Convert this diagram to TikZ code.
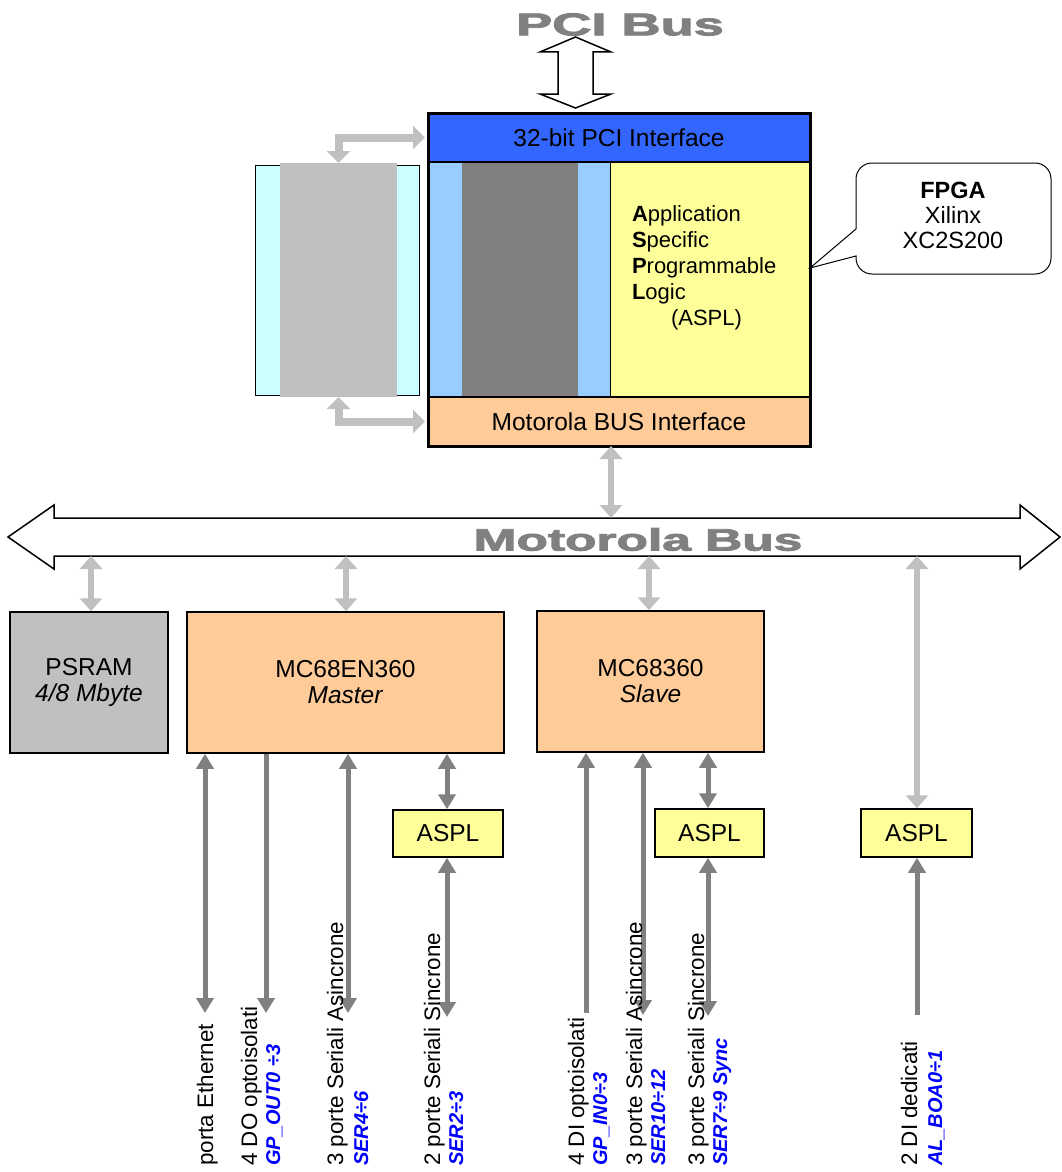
\documentclass[tikz,border=0pt]{standalone}
\usepackage{fontspec}
\setmainfont{Liberation Sans}
\newfontfamily\busfont{Liberation Sans Bold}[FakeBold=2.5]
\usetikzlibrary{arrows.meta}
\definecolor{pciblue}{HTML}{3366FF}
\definecolor{lblue}{HTML}{99CCFF}
\definecolor{dgray}{HTML}{808080}
\definecolor{lgray}{HTML}{C0C0C0}
\definecolor{pyellow}{HTML}{FFFF99}
\definecolor{peach}{HTML}{FFCC99}
\definecolor{pcyan}{HTML}{CCFFFF}
\begin{document}
\begin{tikzpicture}[x=1pt,y=-1pt,
  txt/.style={font=\fontsize{24.5}{26}\selectfont},
  box/.style={draw=black, line width=1.5pt, inner sep=0pt, align=center, txt},
  plain/.style={inner sep=0pt, outer sep=0pt},
  lgline/.style={draw=lgray, line width=6pt},
  lgboth/.style={lgline, arrows={Triangle[width=22pt,length=13pt]-Triangle[width=22pt,length=13pt]}},
  elb/.style={draw=lgray, line width=8pt, arrows={Triangle[width=23pt,length=12pt]-Triangle[width=23pt,length=12pt]}},
  dgline/.style={draw=dgray, line width=5pt},
  dgboth/.style={dgline, arrows={Triangle[width=17pt,length=15pt]-Triangle[width=17pt,length=15pt]}},
  dgend/.style={dgline, arrows={-Triangle[width=17pt,length=15pt]}},
  dgstart/.style={dgline, arrows={Triangle[width=17pt,length=15pt]-}},
  blockarrow/.style={draw=black, line width=1.5pt, fill=white, line join=miter},
  buslabel/.style={text=dgray, inner sep=0pt},
  lab/.style={rotate=90, anchor=base west, inner sep=0pt, font=\fontsize{22.4}{26}\selectfont},
  blab/.style={lab, text=blue, font=\fontsize{20}{24}\selectfont\bfseries\itshape}
]
\useasboundingbox (0,0) rectangle (1061,1172);

% ---------- PCI bus ----------
\node[buslabel, font=\fontsize{31.5}{32}\busfont] (pcibus) at (620,24.5) {\scalebox{1.72}[1]{PCI Bus}};
\draw[blockarrow] (575.5,37) -- (611,52) -- (593,52) -- (593,94) -- (611,94) -- (575.5,108)
  -- (540,94) -- (558,94) -- (558,52) -- (540,52) -- cycle;

% ---------- FPGA ----------
\node[plain, draw=black, line width=2pt, fill=pyellow, minimum width=200pt, minimum height=235pt] (aspl) at (710,279.5) {};
\node[plain, fill=lblue, minimum width=182pt, minimum height=235pt] (fpgal) at (519,279.5) {};
\node[plain, fill=dgray, minimum width=116pt, minimum height=236pt] (fpgad) at (520,279) {};
\node[plain, draw=black, line width=2pt, fill=pciblue, minimum width=382pt, minimum height=49pt, txt] (pci) at (619,137.5) {32-bit PCI Interface};
\node[plain, draw=black, line width=2pt, fill=peach, minimum width=382pt, minimum height=49pt, txt] (mbi) at (619,421.5) {Motorola BUS Interface};
\node[plain, draw=black, line width=3pt, minimum width=382pt, minimum height=333pt] (fpga) at (619,279.5) {};
\node[plain, anchor=north west, align=left, font=\fontsize{22}{26}\selectfont] (aspltxt) at (632,206)
  {\textbf{A}pplication\\\textbf{S}pecific\\\textbf{P}rogrammable\\\textbf{L}ogic\\\hspace*{39pt}(ASPL)};

% ---------- memory block on the left ----------
\node[plain, draw=black, line width=1pt, fill=pcyan, minimum width=164pt, minimum height=230pt] (mem) at (337,280) {};
\node[plain, fill=lgray, minimum width=117pt, minimum height=234pt] (memg) at (338.5,280) {};
\draw[elb] (memg.north) |- ([xshift=-3pt]pci.west);
\draw[elb] (memg.south) |- ([xshift=-3pt]mbi.west);

% ---------- callout ----------
\draw[line width=1pt, fill=white] (856,229) -- (810,268) -- (856,256) [rounded corners=16pt]
  -- (856,274) -- (1051,274) -- (1051,163) -- (856,163) [sharp corners] -- cycle;
\node[plain, align=center, font=\fontsize{23.5}{25}\selectfont] (callout) at (953,215) {\textbf{FPGA}\\Xilinx\\XC2S200};

% ---------- Motorola bus ----------
\draw[blockarrow] (8,537) -- (54,505) -- (54,518) -- (1020,518) -- (1020,505) -- (1060,537)
  -- (1020,569) -- (1020,556) -- (54,556) -- (54,569) -- cycle;
\node[buslabel, font=\fontsize{31}{32}\busfont] (motbus) at (638,539.5) {\scalebox{1.66}[1]{Motorola Bus}};
\coordinate (bf) at (611,518);
\coordinate (bp1) at (91,556);
\coordinate (bm1) at (346,556);
\coordinate (bs1) at (649,556);
\coordinate (bal) at (917,556);

% ---------- boxes ----------
\node[box, fill=lgray, minimum width=158pt, minimum height=141pt] (psram) at (89,682.5) {PSRAM\\\textit{4/8 Mbyte}};
\node[box, fill=peach, minimum width=317pt, minimum height=141pt] (master) at (345.5,682.5) {MC68EN360\\\textit{Master}};
\node[box, fill=peach, minimum width=227pt, minimum height=141pt] (slave) at (650.5,681.5) {MC68360\\\textit{Slave}};
\node[box, fill=pyellow, minimum width=110pt, minimum height=47pt] (aspla) at (448,833.5) {ASPL};
\node[box, fill=pyellow, minimum width=109pt, minimum height=48pt] (asplb) at (709.5,833) {ASPL};
\node[box, fill=pyellow, minimum width=111pt, minimum height=48pt] (asplc) at (916.5,833) {ASPL};

% ---------- bus connections ----------
\draw[lgboth] (fpga.south -| bf) -- (bf);
\draw[lgboth] (bp1) -- (psram.north -| bp1);
\draw[lgboth] (bm1) -- (master.north -| bm1);
\draw[lgboth] (bs1) -- (slave.north -| bs1);
\draw[lgboth] (bal) -- (asplc.north -| bal);

% ---------- I/O lines ----------
\coordinate (eeth) at (205,1013);
\coordinate (edo)  at (266,1013);
\coordinate (eas1) at (348,1013);
\coordinate (esy1) at (447,1017);
\coordinate (edi)  at (586,1013);
\coordinate (eas2) at (643,1015);
\coordinate (esy2) at (708,1016);
\coordinate (eal)  at (917,1015);

\draw[dgboth] (master.south -| eeth) -- (eeth);
\draw[dgend] (master.south -| edo) -- (edo);
\draw[dgboth] (master.south -| eas1) -- (eas1);
\draw[dgboth] (master.south -| esy1) -- (aspla.north -| esy1);
\draw[dgboth] (aspla.south -| esy1) -- (esy1);
\draw[dgstart] (slave.south -| edi) -- (edi);
\draw[dgboth] (slave.south -| eas2) -- (eas2);
\draw[dgboth] (slave.south -| esy2) -- (asplb.north -| esy2);
\draw[dgboth] (asplb.south -| esy2) -- (esy2);
\draw[dgstart] (asplc.south -| eal) -- (eal);

% ---------- labels ----------
\node[lab]  (l1)  at (213,1166) {porta Ethernet};
\node[lab]  (l2)  at (257,1166) {4 DO optoisolati};
\node[blab] (l2b) at (280,1166) {GP\_OUT0 ÷3};
\node[lab]  (l3)  at (343,1166) {3 porte Seriali Asincrone};
\node[blab] (l3b) at (368,1166) {SER4÷6};
\node[lab]  (l4)  at (440,1166) {2 porte Seriali Sincrone};
\node[blab] (l4b) at (463,1166) {SER2÷3};
\node[lab]  (l5)  at (584,1166) {4 DI optoisolati};
\node[blab] (l5b) at (607,1166) {GP\_IN0÷3};
\node[lab]  (l6)  at (642,1166) {3 porte Seriali Asincrone};
\node[blab] (l6b) at (665,1166) {SER10÷12};
\node[lab]  (l7)  at (704,1166) {3 porte Seriali Sincrone};
\node[blab] (l7b) at (727,1166) {SER7÷9 Sync};
\node[lab]  (l8)  at (917,1166) {2 DI dedicati};
\node[blab] (l8b) at (942,1166) {AL\_BOA0÷1};
\end{tikzpicture}
\end{document}
